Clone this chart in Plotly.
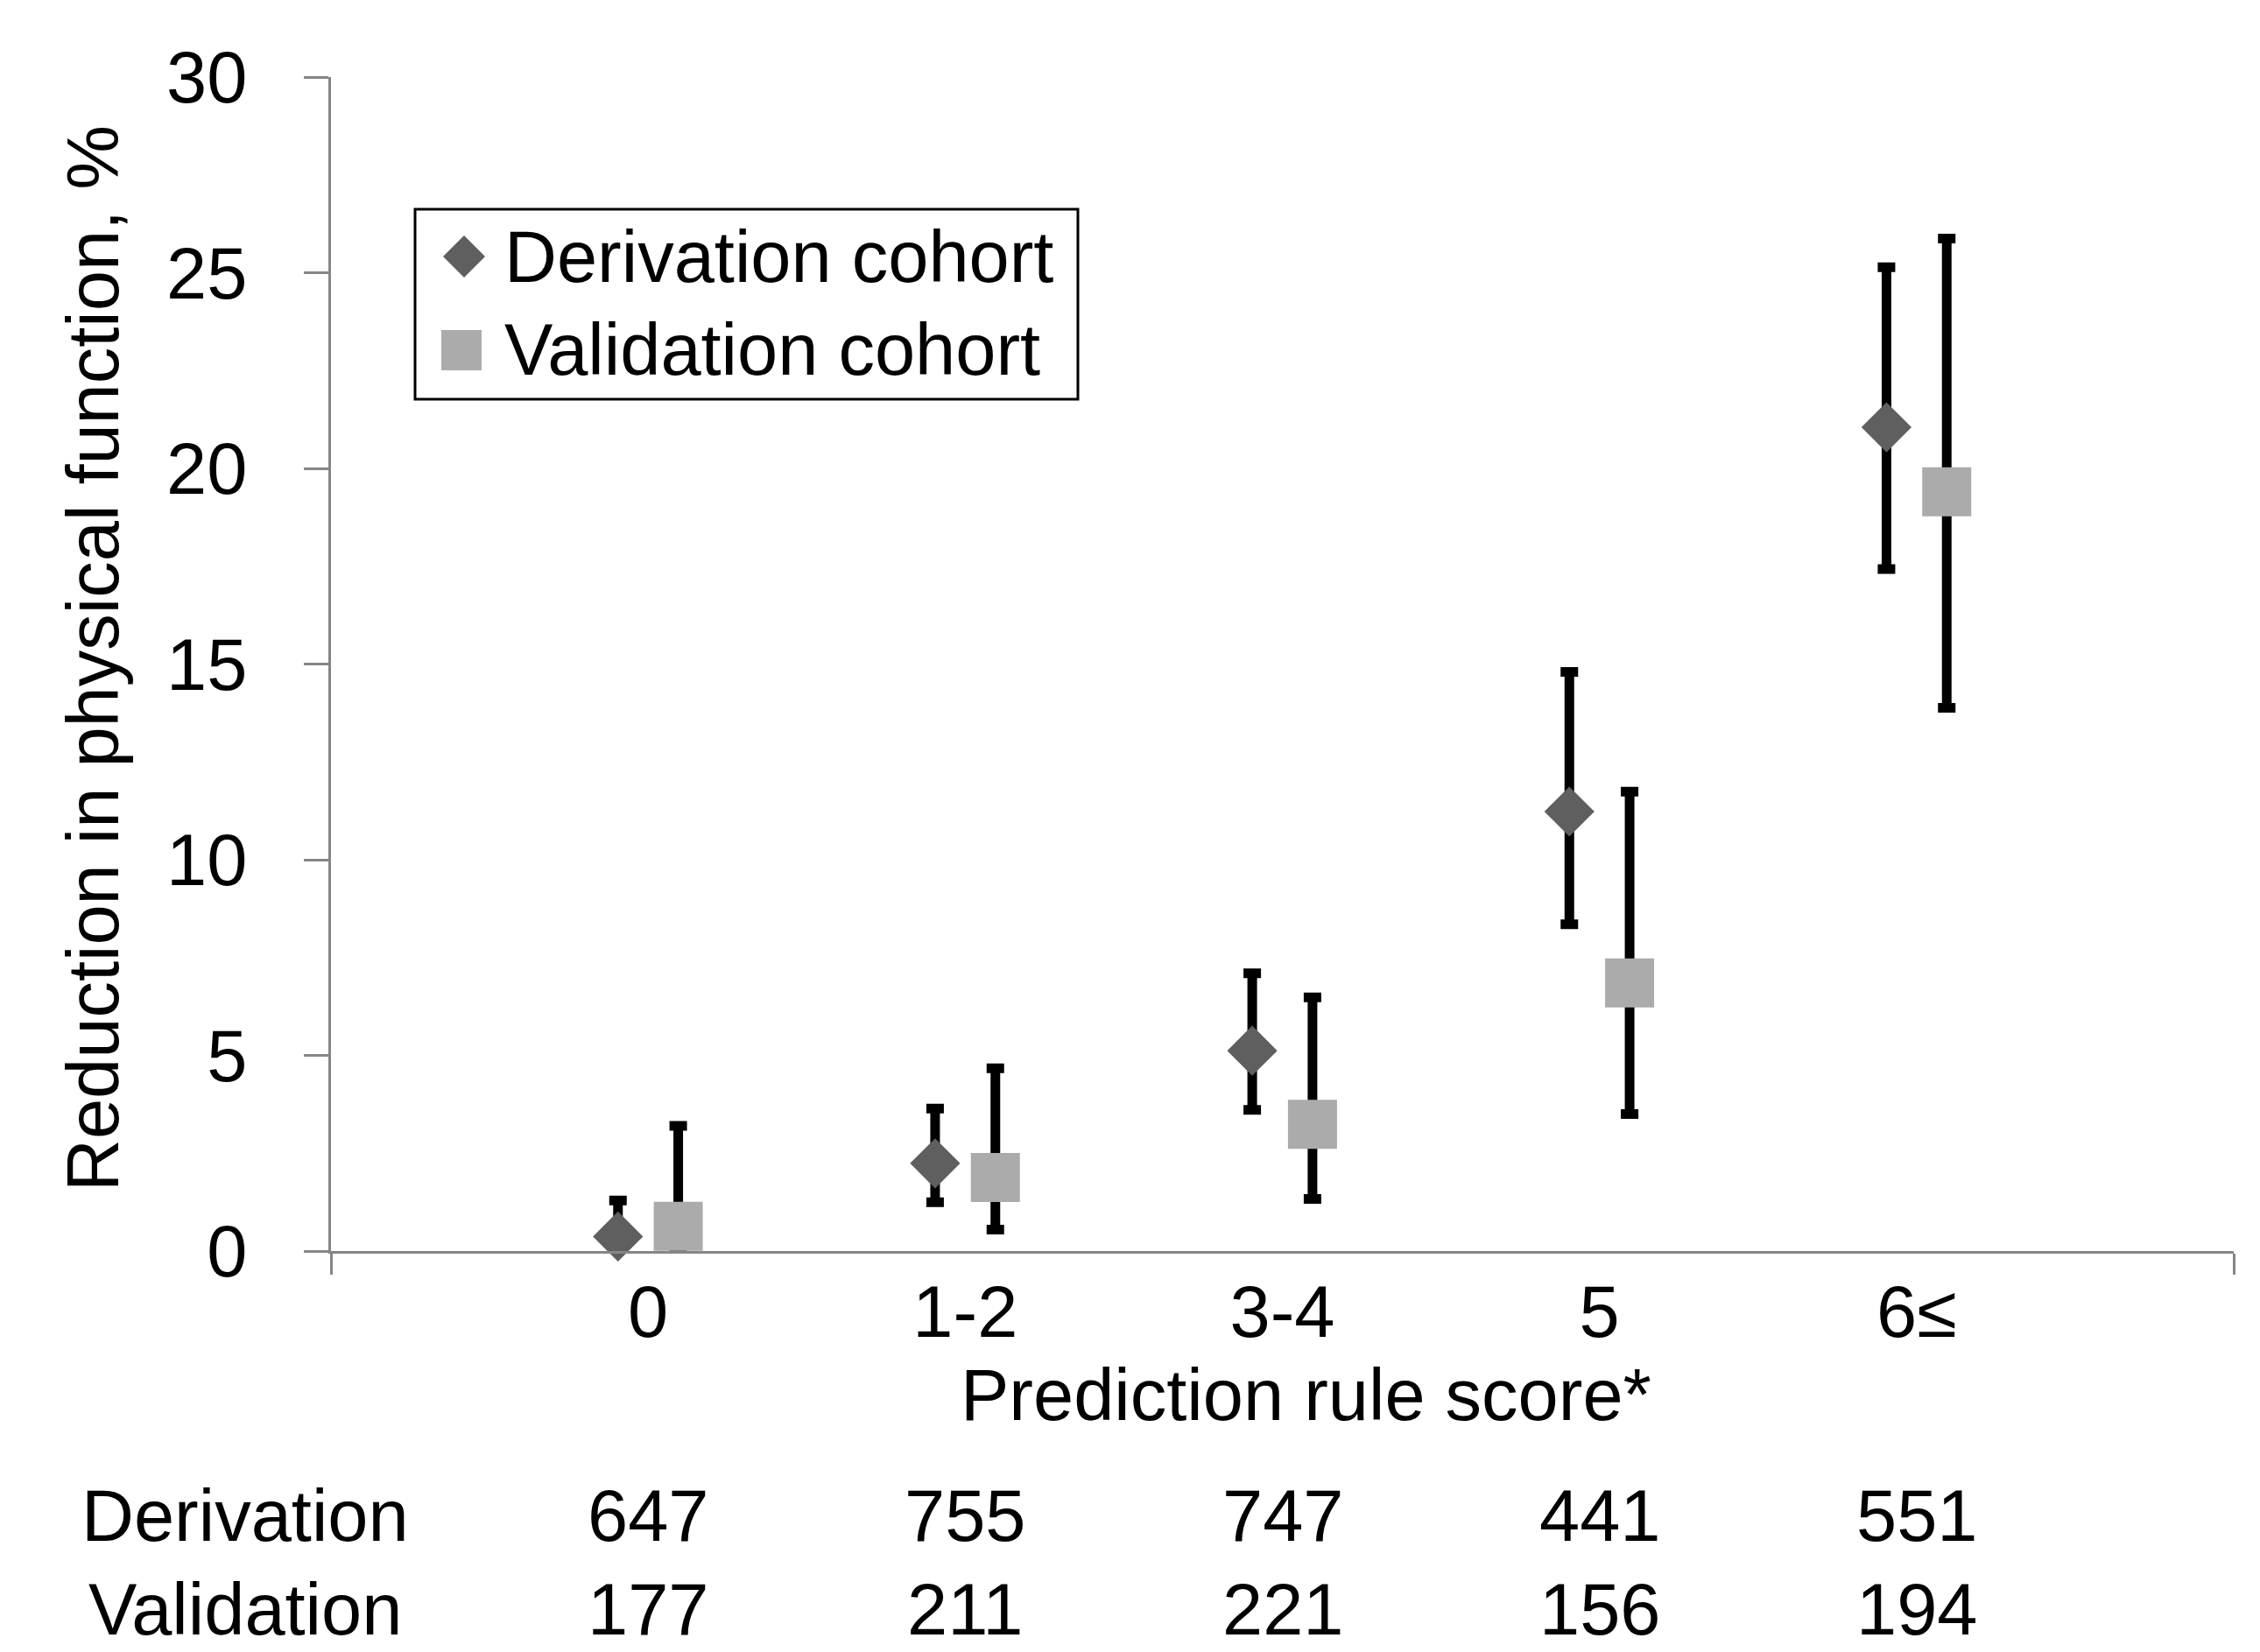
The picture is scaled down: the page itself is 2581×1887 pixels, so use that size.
import plotly.graph_objects as go

# ---- data ----
categories = ["0", "1-2", "3-4", "5", "6≤"]
deriv_mean = [0.37, 2.24, 5.12, 11.23, 21.05]
deriv_upper = [1.29, 3.64, 7.10, 14.80, 25.14]
deriv_lower = [0.10, 1.25, 3.61, 8.35, 17.43]
valid_mean = [0.63, 1.88, 3.24, 6.85, 19.40]
valid_upper = [3.20, 4.67, 6.48, 11.74, 25.87]
valid_lower = [0.10, 0.55, 1.33, 3.50, 13.88]
deriv_n = [647, 755, 747, 441, 551]
valid_n = [177, 211, 221, 156, 194]
y_ticks = [0, 5, 10, 15, 20, 25, 30]

FONT = "Arial, Liberation Sans, sans-serif"
FS = 83
AX = "#868686"
DCOL = "#5f5f5f"
VCOL = "#ababab"
off = 0.095
idx = list(range(len(categories)))

fig = go.Figure()
fig.add_trace(go.Scatter(
    x=[i - off for i in idx], y=deriv_mean, mode="markers", name="Derivation cohort",
    marker=dict(symbol="diamond", size=44, color=DCOL),
    error_y=dict(type="data", symmetric=False,
                 array=[u - m for u, m in zip(deriv_upper, deriv_mean)],
                 arrayminus=[m - l for m, l in zip(deriv_mean, deriv_lower)],
                 color="black", thickness=11, width=10),
    cliponaxis=False, showlegend=False))
fig.add_trace(go.Scatter(
    x=[i + off for i in idx], y=valid_mean, mode="markers", name="Validation cohort",
    xaxis="x2",
    marker=dict(symbol="square", size=56, color=VCOL),
    error_y=dict(type="data", symmetric=False,
                 array=[u - m for u, m in zip(valid_upper, valid_mean)],
                 arrayminus=[m - l for m, l in zip(valid_mean, valid_lower)],
                 color="black", thickness=11, width=10),
    cliponaxis=False, showlegend=False))

L, R, T, B = 378, 30, 88, 458
PW = 2581 - L - R
PH = 1887 - T - B


def px(xp):
    return (xp - L) / PW


def py(yp):
    return (1887 - B - yp) / PH


ROW1, ROW2 = 1731, 1838

annotations = [
    dict(text="Prediction rule score*", xref="paper", yref="paper", x=px(1491), y=py(1593),
         xanchor="center", yanchor="middle", showarrow=False, font=dict(size=FS)),
    dict(text="Reduction in physical function, %", xref="paper", yref="paper",
         x=px(106), y=py(752), textangle=-90, xanchor="center", yanchor="middle",
         showarrow=False, font=dict(size=FS)),
    dict(text="Derivation", xref="paper", yref="paper", x=px(280), y=py(ROW1),
         xanchor="center", yanchor="middle", showarrow=False, font=dict(size=FS)),
    dict(text="Validation", xref="paper", yref="paper", x=px(280), y=py(ROW2),
         xanchor="center", yanchor="middle", showarrow=False, font=dict(size=FS)),
    dict(text="Derivation cohort", xref="paper", yref="paper", x=px(574), y=py(293),
         xanchor="left", yanchor="middle", showarrow=False, font=dict(size=FS)),
    dict(text="Validation cohort", xref="paper", yref="paper", x=px(574), y=py(400),
         xanchor="left", yanchor="middle", showarrow=False, font=dict(size=FS)),
]
for i, n in zip(idx, deriv_n):
    annotations.append(dict(text=str(n), xref="x", yref="paper", x=i, y=py(ROW1),
                            xanchor="center", yanchor="middle", showarrow=False,
                            font=dict(size=FS)))
for i, n in zip(idx, valid_n):
    annotations.append(dict(text=str(n), xref="x", yref="paper", x=i, y=py(ROW2),
                            xanchor="center", yanchor="middle", showarrow=False,
                            font=dict(size=FS)))

shapes = [
    dict(type="rect", xref="paper", yref="paper", x0=px(474), x1=px(1231),
         y0=py(456), y1=py(239), line=dict(color="black", width=3), fillcolor="white",
         layer="below"),
    dict(type="path", xref="paper", yref="paper", xsizemode="pixel", ysizemode="pixel",
         xanchor=px(530), yanchor=py(293), path="M -24 0 L 0 24 L 24 0 L 0 -24 Z",
         fillcolor=DCOL, line=dict(width=0)),
    dict(type="rect", xref="paper", yref="paper", xsizemode="pixel", ysizemode="pixel",
         xanchor=px(527), yanchor=py(400), x0=-23, x1=23, y0=-23, y1=23,
         fillcolor=VCOL, line=dict(width=0)),
]

fig.update_layout(
    width=2581, height=1887,
    margin=dict(l=L, r=R, t=T, b=B),
    paper_bgcolor="white", plot_bgcolor="white",
    font=dict(family=FONT, size=FS, color="black"),
    xaxis=dict(range=[-1, 5], tickvals=[-1, 5], ticktext=["", ""], ticks="outside",
               ticklen=24, tickwidth=3, tickcolor=AX, showline=True, linecolor=AX,
               linewidth=3, showgrid=False, zeroline=False),
    xaxis2=dict(range=[-1, 5], overlaying="x", anchor="y", side="bottom",
                tickvals=idx, ticktext=categories, ticks="", showline=False,
                showgrid=False, zeroline=False, tickfont=dict(size=FS),
                ticklabelstandoff=14),
    yaxis=dict(range=[0, 30], tickvals=y_ticks, ticks="outside", ticklen=28, tickwidth=3,
               tickcolor=AX, showline=True, linecolor=AX, linewidth=3, showgrid=False,
               zeroline=False, tickfont=dict(size=FS), ticklabelstandoff=48),
    annotations=annotations,
    shapes=shapes,
    showlegend=False,
)

fig.write_html("out.html", config={"displayModeBar": False},
               post_script="document.body.style.margin='0';document.body.style.overflow='hidden';")
